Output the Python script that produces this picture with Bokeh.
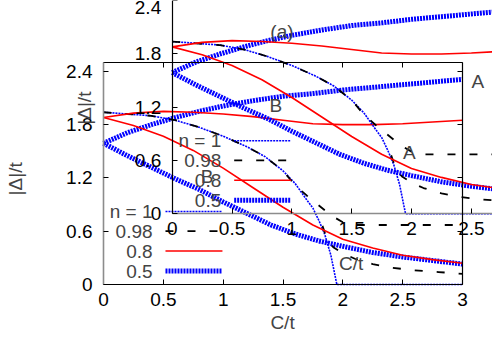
import numpy as np
from bokeh.plotting import figure
from bokeh.models import Range1d, LinearAxis, FixedTicker, Label
from bokeh.embed import file_html
from bokeh.resources import INLINE

# ---------------- data ----------------
x_ticks = [0, 0.5, 1, 1.5, 2, 2.5, 3]
x_tick_labels = ["0", "0.5", "1", "1.5", "2", "2.5", "3"]
y_ticks = [0, 0.6, 1.2, 1.8, 2.4]
y_tick_labels = ["0", "0.6", "1.2", "1.8", "2.4"]

# n = 1 (thin blue dotted)
n1_x = [0, 0.2, 0.4, 0.6, 0.8, 1.0, 1.2, 1.35, 1.5, 1.6, 1.7, 1.75, 1.8, 1.85, 1.9, 1.95, 2.3, 2.7, 3.0]
n1_y = [1.94, 1.92, 1.90, 1.85, 1.77, 1.67, 1.55, 1.44, 1.28, 1.14, 0.95, 0.86, 0.72, 0.56, 0.33, 0.0, 0.0, 0.0, 0.0]

# n = 0.98 (black dashed), two branches
n098a_x = [0, 0.2, 0.4, 0.6, 0.8, 1.0, 1.2, 1.35, 1.5, 1.6, 1.7, 1.8, 1.9, 2.0, 2.1, 2.4, 2.7, 3.0]
n098a_y = [1.94, 1.92, 1.90, 1.85, 1.77, 1.67, 1.55, 1.44, 1.28, 1.12, 1.00, 0.89, 0.78, 0.70, 0.67, 0.67, 0.67, 0.67]
n098b_x = [1.83, 1.87, 1.92, 2.0, 2.1, 2.25, 2.4, 2.6, 2.8, 3.0]
n098b_y = [0.66, 0.50, 0.42, 0.35, 0.29, 0.23, 0.19, 0.16, 0.14, 0.12]

# n = 0.8 (red solid), two branches
n08a_x = [0, 0.25, 0.5, 0.75, 1.0, 1.25, 1.5, 1.75, 2.0, 2.25, 2.5, 2.75, 3.0]
n08a_y = [1.88, 1.93, 1.95, 1.94, 1.92, 1.89, 1.85, 1.81, 1.80, 1.80, 1.81, 1.83, 1.85]
n08b_x = [0, 0.25, 0.5, 0.75, 1.0, 1.25, 1.5, 1.75, 2.0, 2.25, 2.5, 2.75, 3.0]
n08b_y = [1.88, 1.79, 1.67, 1.51, 1.31, 1.09, 0.87, 0.67, 0.51, 0.41, 0.33, 0.28, 0.24]

# n = 0.5 (thick blue dotted), two branches
n05a_x = [0, 0.2, 0.4, 0.6, 0.8, 1.0, 1.25, 1.5, 1.75, 2.0, 2.25, 2.5, 2.75, 3.0]
n05a_y = [1.59, 1.71, 1.80, 1.88, 1.95, 2.01, 2.07, 2.12, 2.15, 2.19, 2.22, 2.25, 2.28, 2.31]
n05b_x = [0, 0.2, 0.4, 0.6, 0.8, 1.0, 1.2, 1.4, 1.6, 1.8, 2.0, 2.25, 2.5, 2.75, 3.0]
n05b_y = [1.59, 1.45, 1.32, 1.19, 1.07, 0.93, 0.80, 0.67, 0.57, 0.49, 0.43, 0.36, 0.31, 0.27, 0.23]

legend_labels = ["n = 1", "0.98", "0.8", "0.5"]

# ---------------- layout / style constants ----------------
W, H = 492, 334
X0_PX, X3_PX = 103.0, 462.0     # canvas px of C/t = 0 and 3 (main panel)
Y0_PX, YTOP_PX = 284.0, 62.0    # canvas px of |D|/t = 0 and 2.5 (main panel)
XMAX, YMAX = 3.0, 2.5
SX = (X3_PX - X0_PX) / XMAX
SY = (Y0_PX - YTOP_PX) / YMAX
SHIFT_X_PX, SHIFT_Y_PX = 68.7, 70.7   # second copy of the panel, shifted right / up
DX, DY = SHIFT_X_PX / SX, SHIFT_Y_PX / SY

FONT = "Liberation Sans"
FS = "19px"
RED = "#ff0000"
BLUE = "#0000ff"
GRAY = "#8c8c8c"

x0 = -X0_PX / SX
x1 = (W - X0_PX) / SX
y0 = -(H - Y0_PX) / SY
y1 = Y0_PX / SY

p = figure(width=W, height=H, x_range=Range1d(x0, x1), y_range=Range1d(y0, y1),
           output_backend="svg", toolbar_location=None,
           x_axis_location=None, y_axis_location=None, title=None,
           min_border=0, min_border_left=0, min_border_right=0,
           min_border_top=0, min_border_bottom=0)
p.outline_line_color = None
p.background_fill_color = "white"
p.border_fill_color = "white"
for g in p.grid:
    g.visible = False

p.extra_x_ranges = {"a": Range1d(x0 - DX, x1 - DX)}
p.extra_y_ranges = {"a": Range1d(y0 - DY, y1 - DY)}


def add_axis(side, loc, ticks, labels, bounds, color, show_labels, rn):
    ax = LinearAxis(fixed_location=loc, bounds=bounds, ticker=FixedTicker(ticks=ticks),
                    x_range_name=rn, y_range_name=rn)
    ax.major_tick_in = 5
    ax.major_tick_out = 0
    ax.minor_tick_in = 0
    ax.minor_tick_out = 0
    ax.axis_line_color = color
    ax.axis_line_width = 1.6 if color == GRAY else 1.2
    ax.major_tick_line_color = "black"
    ax.major_tick_line_width = 1
    ax.major_label_overrides = {t: l for t, l in zip(ticks, labels)}
    ax.major_label_text_font = FONT
    ax.major_label_text_font_size = FS
    ax.major_label_text_color = "black" if show_labels else None
    ax.major_label_standoff = 11 if side == "left" else 8
    p.add_layout(ax, side)


def draw_panel(rn, left_color, bottom_color, box, xlabel_y):
    add_axis("left", 0, y_ticks, y_tick_labels, (0, YMAX), left_color, True, rn)
    add_axis("below", 0, x_ticks, x_tick_labels, (0, XMAX), bottom_color, True, rn)
    if box:
        add_axis("above", YMAX, x_ticks, x_tick_labels, (0, XMAX), "black", False, rn)
        add_axis("right", XMAX, y_ticks, y_tick_labels, (0, YMAX), "black", False, rn)

    kw = dict(x_range_name=rn, y_range_name=rn)
    # curves
    for xs, ys in ((n05a_x, n05a_y), (n05b_x, n05b_y)):
        p.line(xs, ys, line_color=BLUE, line_width=5, line_dash="2 1", **kw)
    p.line(n1_x, n1_y, line_color=BLUE, line_width=1.6, line_dash="2 1", **kw)
    for xs, ys in ((n098a_x, n098a_y), (n098b_x, n098b_y)):
        p.line(xs, ys, line_color="black", line_width=1.8, line_dash="8 14", **kw)
    for xs, ys in ((n08a_x, n08a_y), (n08b_x, n08b_y)):
        p.line(xs, ys, line_color=RED, line_width=1.6, **kw)

    # key (text on the left, sample on the right)
    rows_y = [0.822, 0.602, 0.377, 0.152]
    text_x = 0.41
    s0, s1 = 0.518, 0.994
    styles = [dict(line_color=BLUE, line_width=1.6, line_dash="2 1"),
              dict(line_color="black", line_width=1.8, line_dash="8 14"),
              dict(line_color=RED, line_width=1.6),
              dict(line_color=BLUE, line_width=5, line_dash="2 1")]
    for lab, yy, st in zip(legend_labels, rows_y, styles):
        p.add_layout(Label(x=text_x, y=yy, text=lab, text_font=FONT, text_font_size=FS,
                           text_align="right", text_baseline="middle", **kw))
        p.line([s0, s1], [yy, yy], **st, **kw)

    # texts
    p.add_layout(Label(x=2.555, y=1.486, text="A", text_font=FONT, text_font_size=FS,
                       text_align="center", text_baseline="middle", **kw))
    p.add_layout(Label(x=0.866, y=1.216, text="B", text_font=FONT, text_font_size=FS,
                       text_align="center", text_baseline="middle", **kw))
    p.add_layout(Label(x=1.496, y=xlabel_y, text="C/t", text_font=FONT, text_font_size=FS,
                       text_align="center", text_baseline="middle", **kw))
    p.add_layout(Label(x=-0.735, y=1.19, text="|Δ|/t", text_font=FONT, text_font_size=FS,
                       text_align="center", text_baseline="middle",
                       angle=90, angle_units="deg", **kw))


draw_panel("default", GRAY, "black", True, -0.43)
draw_panel("a", "black", GRAY, False, -0.56)
p.add_layout(Label(x=0.917, y=2.048, text="(a)", text_font=FONT, text_font_size=FS,
                   text_align="center", text_baseline="middle",
                   x_range_name="a", y_range_name="a"))

open("out.html", "w").write(file_html(p, INLINE))
